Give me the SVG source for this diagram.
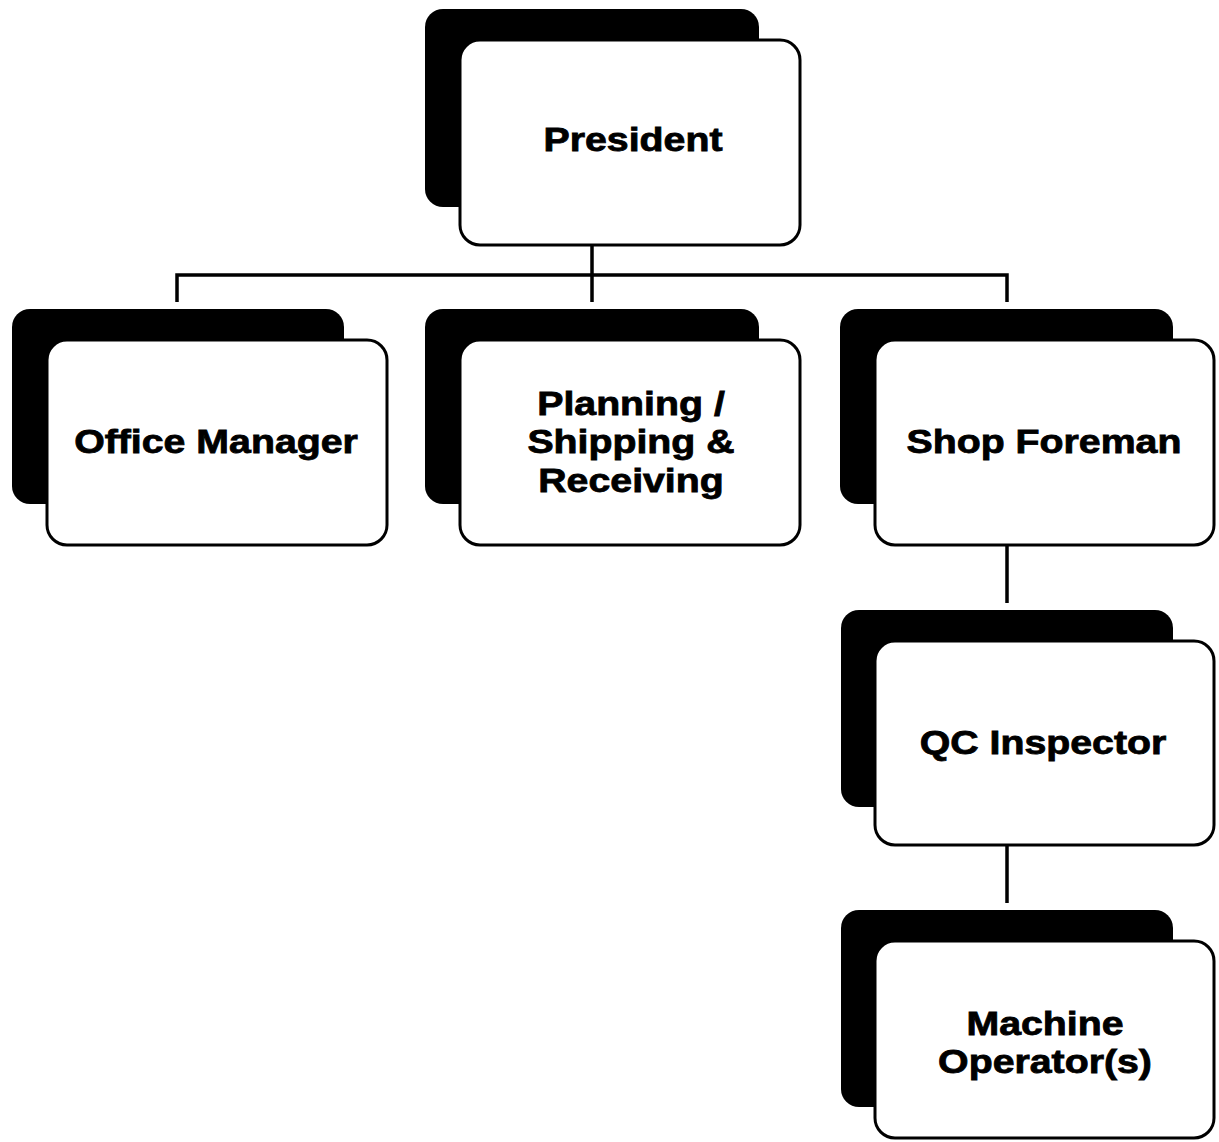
<svg xmlns="http://www.w3.org/2000/svg" width="1219" height="1142" viewBox="0 0 1219 1142">
<style>
.sh{fill:#000}
.bx{fill:#fff;stroke:#000;stroke-width:3}
.lb{font-family:"Liberation Sans",Arial,sans-serif;font-weight:bold;font-size:33px;fill:#000;stroke:#000;stroke-width:0.8;text-anchor:middle}
.cn{fill:none;stroke:#000;stroke-width:3.5;stroke-linecap:butt}
</style>
<rect width="1219" height="1142" fill="#fff"/>
<g id="connectors">
<path class="cn" d="M592,245 V302 M177,302 V275 H1007 V302 M1007,545 V603 M1007,845 V903"/>
</g>
<g id="president">
<rect class="sh" x="425" y="9" width="334" height="198" rx="18"/>
<rect class="bx" x="460" y="40" width="340" height="205" rx="20"/>
<g transform="translate(633,0) scale(1.19,1)"><text class="lb" x="0" y="151">President</text></g>
</g>
<g id="office-manager">
<rect class="sh" x="12" y="309" width="332" height="195" rx="18"/>
<rect class="bx" x="47" y="340" width="340" height="205" rx="20"/>
<g transform="translate(216,0) scale(1.19,1)"><text class="lb" x="0" y="453">Office Manager</text></g>
</g>
<g id="planning">
<rect class="sh" x="425" y="309" width="334" height="195" rx="18"/>
<rect class="bx" x="460" y="340" width="340" height="205" rx="20"/>
<g transform="translate(631,0) scale(1.19,1)"><text class="lb" y="415"><tspan x="0">Planning /</tspan><tspan x="0" dy="38">Shipping &amp;</tspan><tspan x="0" dy="39">Receiving</tspan></text></g>
</g>
<g id="shop-foreman">
<rect class="sh" x="840" y="309" width="333" height="195" rx="18"/>
<rect class="bx" x="875" y="340" width="339" height="205" rx="20"/>
<g transform="translate(1044,0) scale(1.19,1)"><text class="lb" x="0" y="453">Shop Foreman</text></g>
</g>
<g id="qc-inspector">
<rect class="sh" x="841" y="610" width="332" height="197" rx="18"/>
<rect class="bx" x="875" y="641" width="339" height="204" rx="20"/>
<g transform="translate(1043,0) scale(1.19,1)"><text class="lb" x="0" y="754">QC Inspector</text></g>
</g>
<g id="machine-operators">
<rect class="sh" x="841" y="910" width="332" height="197" rx="18"/>
<rect class="bx" x="875" y="941" width="339" height="197" rx="20"/>
<g transform="translate(1045,0) scale(1.19,1)"><text class="lb" y="1035"><tspan x="0">Machine</tspan><tspan x="0" dy="38">Operator(s)</tspan></text></g>
</g>
</svg>
